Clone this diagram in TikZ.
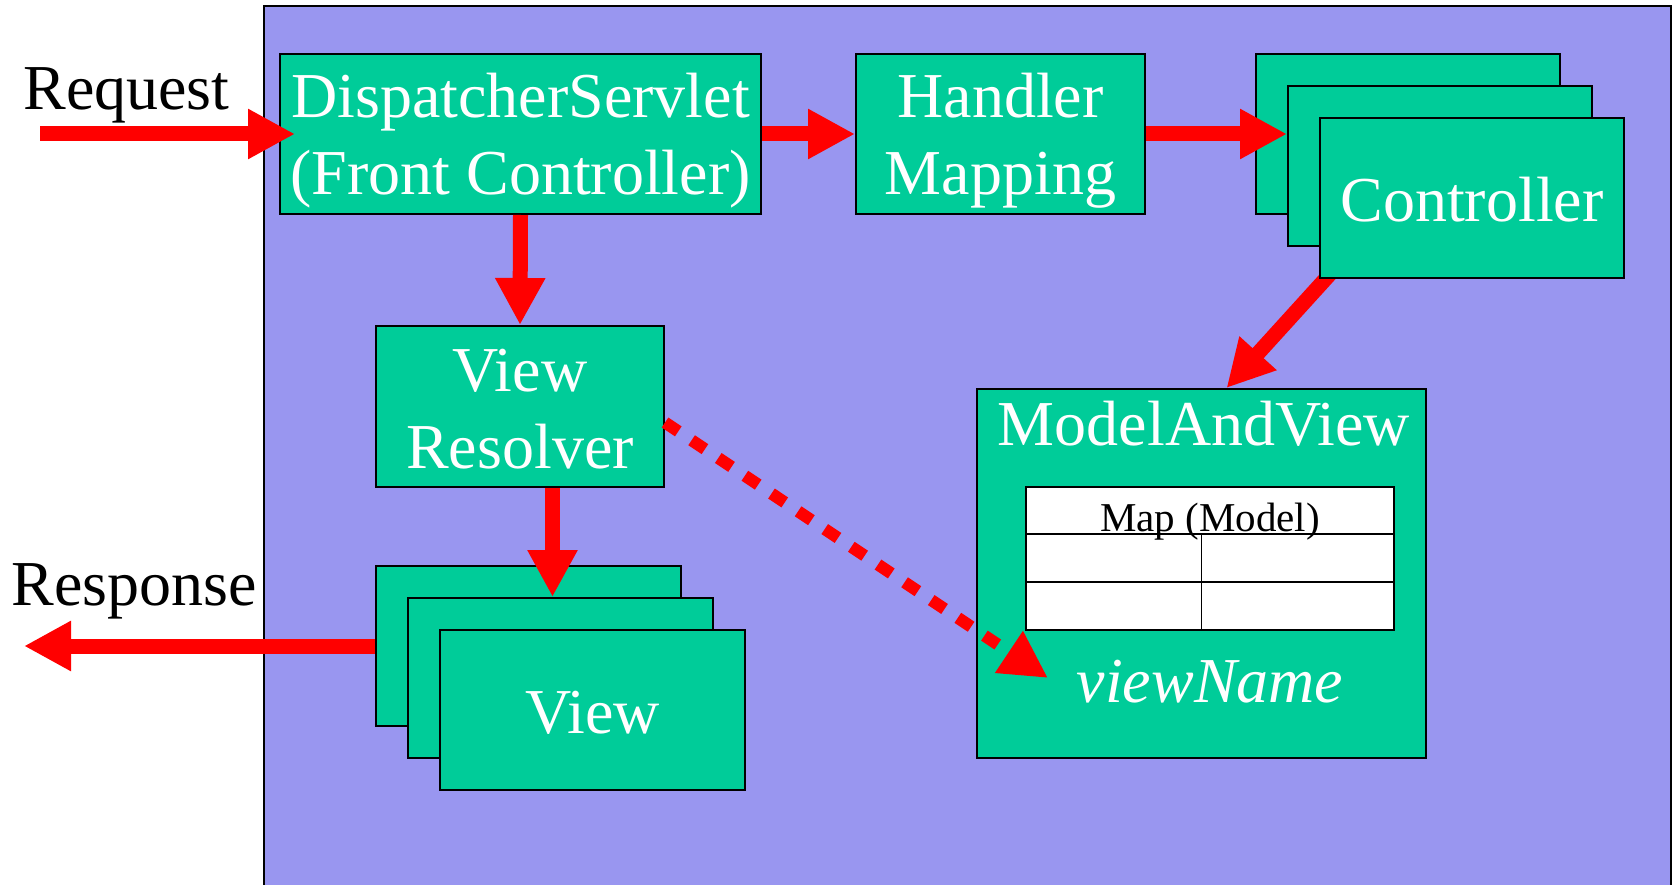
\documentclass[tikz,border=0pt]{standalone}
\usepackage{fontspec}
\setmainfont{Liberation Serif}
\usetikzlibrary{arrows.meta,calc}
\definecolor{panel}{RGB}{153,150,240}
\definecolor{boxgreen}{RGB}{0,204,153}
\begin{document}
\begin{tikzpicture}[x=1pt,y=-1pt,
  box/.style={draw=black,line width=2pt,fill=boxgreen,rectangle,inner sep=0pt},
  lbl/.style={font=\fontsize{64}{77}\selectfont,inner sep=0pt,anchor=base,text=white},
  flow/.style={draw=red,line width=15pt,-{Triangle[length=47pt,width=47pt]}},
  flowdash/.style={draw=red,line width=12pt,dash pattern=on 16pt off 16pt,
                   -{Triangle[length=47pt,width=47pt]}}]
\useasboundingbox (0,0) rectangle (1673,885);

% container panel
\fill[panel] (264,6) rectangle (1671,885);
\draw[line width=1.5pt] (264,885) -- (264,6) -- (1671,6) -- (1671,885);

% controller stack (the outgoing arrow sits underneath it)
\node[box,minimum width=304pt,minimum height=160pt] (ctl1) at (1408,134) {};
\node[box,minimum width=304pt,minimum height=160pt] (ctl2) at (1440,166) {};
\coordinate (ctlout) at (1330,274);
\node[box,minimum width=449pt,minimum height=369pt] (mav) at (1201.5,573.5) {};
\coordinate (mavin) at ($(mav.north)+(25,0)$);
\draw[flow] (ctlout) -- (mavin);
\node[box,minimum width=304pt,minimum height=160pt] (ctl3) at (1472,198) {};

% main components
\node[box,minimum width=481pt,minimum height=160pt] (ds) at (520.5,134) {};
\node[box,minimum width=289pt,minimum height=160pt] (hm) at (1000.5,134) {};
\node[box,minimum width=288pt,minimum height=161pt] (vr) at (520,406.5) {};

% view stack
\node[box,minimum width=305pt,minimum height=160pt] (view1) at (528.5,646) {};
\node[box,minimum width=305pt,minimum height=160pt] (view2) at (560.5,678) {};
\node[box,minimum width=305pt,minimum height=160pt] (view3) at (592.5,710) {};

% model map table
\node[draw=black,line width=2pt,fill=white,inner sep=0pt,
      minimum width=368.5pt,minimum height=143pt] (map) at (1209.75,558.5) {};
\draw[line width=2pt] (1025.5,534) -- (1394,534);
\draw[line width=2pt] (1025.5,582) -- (1394,582);
\draw[line width=1.5pt] (1201.5,534) -- (1201.5,630);

% labels
\node[lbl] (ds1) at (520.5,118) {DispatcherServlet};
\node[lbl] (ds2) at (520.5,195) {(Front Controller)};
\node[lbl] (hm1) at (1000.5,118) {Handler};
\node[lbl] (hm2) at (1000.5,195) {Mapping};
\node[lbl] (ctlt) at (1472,222) {Controller};
\node[lbl] (vr1) at (520,391) {View};
\node[lbl] (vr2) at (520,468) {Resolver};
\node[lbl] (viewt) at (592.5,733) {View};
\node[lbl] (mavt) at (1204,445) {ModelAndView};
\node[lbl,font=\fontsize{41}{49}\selectfont,text=black] (mapt) at (1210,531) {Map (Model)};
\node[lbl,font=\fontsize{64}{77}\selectfont\itshape] (vn) at (1210,702) {viewName};
\node[lbl,text=black] (req) at (126.5,110) {Request};
\node[lbl,text=black] (resp) at (134,605) {Response};

% request flow
\coordinate (reqstart) at (40,134);
\coordinate (reqend) at ($(ds.west)+(16,0)$);
\draw[flow] (reqstart) -- (reqend);
\draw[flow] (ds.east) -- (hm.west);
\draw[flow] (hm.east) -- (ctl2.west |- ctl1.east);
\draw[flow] (ds.south) -- (vr.north);
\coordinate (vrout) at ($(vr.south)+(32.5,0)$);
\draw[flow] (vrout) -- (vrout |- view2.north);
\coordinate (respend) at (24,646);
\draw[flow] (view1.west) -- (respend);

% view name lookup
\coordinate (vrside) at ($(vr.east)+(0,16)$);
\coordinate (vntip) at (1048,678);
\draw[flowdash] (vrside) -- (vntip);
\end{tikzpicture}
\end{document}
